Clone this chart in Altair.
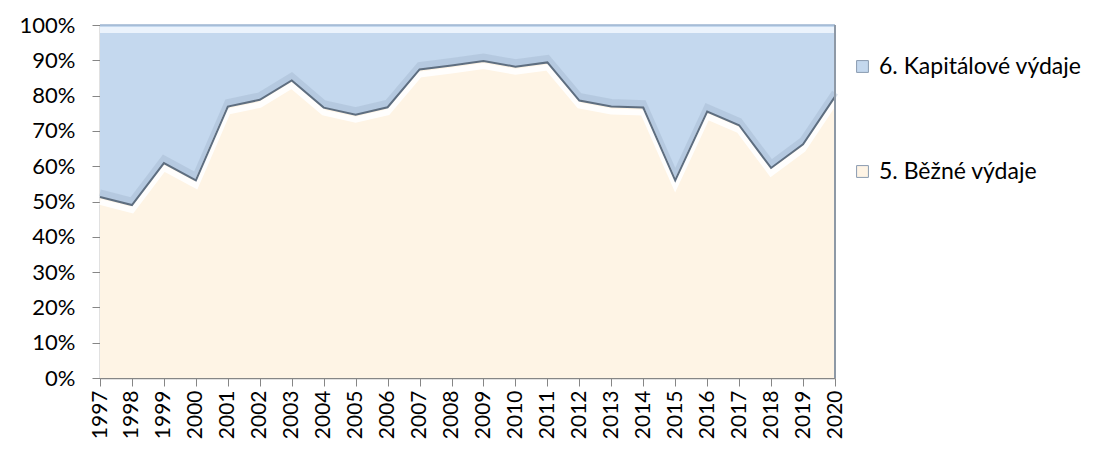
import altair as alt
import pandas as pd

years = list(range(1997, 2021))
bezne_pct = [51.3, 49.0, 60.9, 56.0, 76.9, 78.8, 84.3, 76.6, 74.6, 76.7, 87.4, 88.5,
             89.8, 88.2, 89.4, 78.6, 76.9, 76.6, 56.0, 75.5, 71.6, 59.5, 66.2, 79.7]
series = ["6. Kapitálové výdaje", "5. Běžné výdaje"]
colors = ["#C4D8EE", "#FEF4E5"]
y_ticks = [i / 10 for i in range(11)]

rows = []
for yr, b in zip(years, bezne_pct):
    rows.append({"year": yr, "series": series[1], "value": b, "rank": 0})
    rows.append({"year": yr, "series": series[0], "value": 100 - b, "rank": 1})
df = pd.DataFrame(rows)
bdf = pd.DataFrame({"year": years, "share": [b / 100 for b in bezne_pct]})

FONT = "Lato"
x_scale = alt.Scale(domain=[1997, 2020], nice=False, zero=False)
y_scale = alt.Scale(domain=[0, 1], nice=False)

x_axis = alt.Axis(values=years, format="d", labelAngle=270, title=None,
                  labelFontSize=21, labelColor="#000000", labelFont=FONT,
                  labelOverlap=False, labelFlush=False,
                  domainColor="#868686", tickColor="#868686", tickSize=8,
                  labelPadding=4, grid=False, domainWidth=1.5)
y_axis = alt.Axis(values=y_ticks, format=".0%", title=None, labelFontSize=22,
                  labelColor="#000000", labelFont=FONT, domainColor="#868686",
                  labelOverlap=False, labelFlush=False,
                  tickColor="#868686", tickSize=8, labelPadding=17, grid=False,
                  domainWidth=1.5)

area = alt.Chart(df).mark_area(opacity=1).encode(
    x=alt.X("year:Q", scale=x_scale, axis=x_axis),
    y=alt.Y("value:Q", stack="normalize", scale=y_scale, axis=y_axis),
    color=alt.Color("series:N", scale=alt.Scale(domain=series, range=colors),
                    legend=alt.Legend(title=None, orient="none", legendX=751, legendY=30,
                                      symbolType="square", symbolSize=140,
                                      symbolStrokeColor="#8a9bb0", symbolStrokeWidth=1,
                                      labelFontSize=23, labelFont=FONT, labelColor="#000000",
                                      labelLimit=400, rowPadding=81, labelOffset=5)),
    order=alt.Order("rank:Q"),
)

lx = alt.X("year:Q", scale=x_scale, axis=x_axis)
ly = alt.Y("share:Q", scale=y_scale, axis=y_axis)

shadow = alt.Chart(bdf).mark_line(color="#9FB3CB", strokeWidth=7, opacity=0.4, yOffset=-4).encode(x=lx, y=ly)
highlight = alt.Chart(bdf).mark_line(color="#FFFFFF", strokeWidth=6, opacity=0.9, yOffset=5).encode(x=lx, y=ly)
edge = alt.Chart(bdf).mark_line(color="#5E6E80", strokeWidth=2).encode(x=lx, y=ly)

top_df = pd.DataFrame({"year": [1997, 2020], "share": [1.0, 1.0]})
top_hl = alt.Chart(top_df).mark_line(color="#F2F8FE", strokeWidth=6, opacity=0.85, yOffset=5).encode(x=lx, y=ly)
top_edge = alt.Chart(top_df).mark_line(color="#9DB5D0", strokeWidth=1.5).encode(x=lx, y=ly)

right_df = pd.DataFrame({"year": [2020, 2020], "share": [0.0, 1.0]})
right_edge = alt.Chart(right_df).mark_line(color="#8E99A6", strokeWidth=2).encode(x=lx, y=ly)

chart = alt.layer(area, shadow, highlight, edge, top_hl, top_edge, right_edge).properties(
    width=735, height=353,
    autosize=alt.AutoSizeParams(type="none"),
    padding={"left": 92, "top": 17, "right": 254, "bottom": 63},
).configure_view(stroke=None).configure(font=FONT)

chart.save("out.html", embed_options={"renderer": "svg", "actions": False})
